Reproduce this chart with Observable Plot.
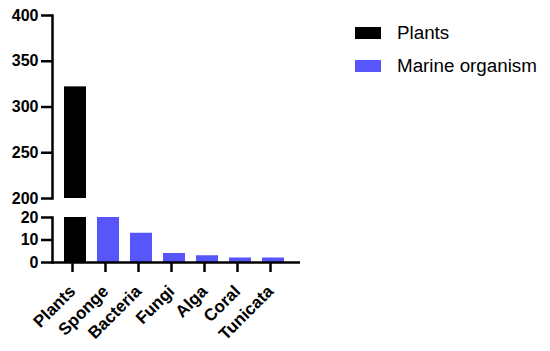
<!DOCTYPE html>
<html><head><meta charset="utf-8">
<script src="https://cdn.jsdelivr.net/npm/d3@7"></script>
<script src="https://cdn.jsdelivr.net/npm/@observablehq/plot@0.6"></script>
<style>
body{margin:0;background:#fff;font-family:"Liberation Sans",Arial,sans-serif;}
#wrap{position:relative;width:550px;height:351px;overflow:hidden;}
#top,#bottom{position:absolute;left:0;}
#top{top:0}
#bottom{top:205px}
#legend{position:absolute;left:355px;top:16px;}
.item{display:flex;align-items:center;height:33px;}
.sw{width:26px;height:12px;margin-right:16px;}
.lab{font-size:18.8px;color:#000;white-space:nowrap;}
svg{overflow:visible}
</style>
</head><body>
<div id="wrap"><div id="top"></div><div id="bottom"></div><div id="legend"></div></div>
<script>
const categories = ["Plants","Sponge","Bacteria","Fungi","Alga","Coral","Tunicata"];
const values = [322, 20, 13, 4, 3, 2, 2];
const groups = ["Plants","Marine organism","Marine organism","Marine organism","Marine organism","Marine organism","Marine organism"];
const seriesNames = ["Plants","Marine organism"];
const seriesColors = ["#000000","#5656fa"];
const topTicks = [200,250,300,350,400];
const bottomTicks = [0,10,20];
const breakLow = 20, breakHigh = 200, topMax = 400;

const data = categories.map((c,i)=>({category:c, value:values[i], group:groups[i]}));

const xOpts = {type:"band", domain:categories, paddingInner:0.343, paddingOuter:0.373, align:0.42};
const colorOpts = {domain:seriesNames, range:seriesColors};
const svgStyle = {background:"transparent", overflow:"visible", fontFamily:"'Liberation Sans', Arial, sans-serif", color:"#000"};

const topPlot = Plot.plot({
  width:550, height:210, marginTop:15, marginBottom:12, marginLeft:52, marginRight:250,
  style:svgStyle,
  x:{...xOpts, axis:null},
  y:{domain:[breakHigh, topMax], axis:null},
  color:colorOpts,
  marks:[
    Plot.barY(data.filter(d=>d.value>breakHigh), {x:"category", y1:()=>breakHigh, y2:"value", fill:"group"}),
    Plot.axisY({ticks:topTicks, label:null, tickSize:11, strokeWidth:2.5, fontSize:16, fontWeight:"bold", tickPadding:3}),
    Plot.frame({anchor:"left", strokeWidth:2.5})
  ]
});
document.getElementById("top").appendChild(topPlot);

const bottomPlot = Plot.plot({
  width:550, height:146, marginTop:12, marginBottom:89, marginLeft:52, marginRight:250,
  style:svgStyle,
  x:{...xOpts, axis:null},
  y:{domain:[0, breakLow], axis:null},
  color:colorOpts,
  marks:[
    Plot.barY(data, {x:"category", y1:()=>0, y2:d=>Math.min(d.value, breakLow), fill:"group"}),
    Plot.axisY({ticks:bottomTicks, label:null, tickSize:11, strokeWidth:2.5, fontSize:16, fontWeight:"bold", tickPadding:3}),
    Plot.axisX({label:null, tickSize:10, strokeWidth:2.5, tickRotate:-45, fontSize:17, fontWeight:"bold", tickPadding:16, dx:-3}),
    Plot.frame({anchor:"left", strokeWidth:2.5}),
    Plot.ruleY([0], {strokeWidth:2.5})
  ]
});
document.getElementById("bottom").appendChild(bottomPlot);

const legend = document.getElementById("legend");
seriesNames.forEach((n,i)=>{
  const it = document.createElement("div"); it.className="item";
  const sw = document.createElement("div"); sw.className="sw"; sw.style.background=seriesColors[i];
  const lb = document.createElement("div"); lb.className="lab"; lb.textContent=n;
  it.appendChild(sw); it.appendChild(lb); legend.appendChild(it);
});
</script>
</body></html>
